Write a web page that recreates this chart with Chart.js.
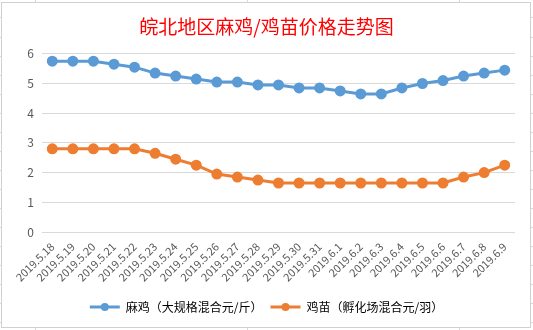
<!DOCTYPE html>
<html>
<head>
<meta charset="utf-8">
<script src="https://cdn.jsdelivr.net/npm/chart.js@4/dist/chart.umd.min.js"></script>
<style>
  html, body { margin: 0; padding: 0; background: #fff; }
  #wrap { width: 533px; height: 330px; }
</style>
</head>
<body>
<div id="wrap"><canvas id="myChart" width="533" height="330"></canvas></div>
<script>
const dates = ['2019.5.18','2019.5.19','2019.5.20','2019.5.21','2019.5.22','2019.5.23','2019.5.24',
  '2019.5.25','2019.5.26','2019.5.27','2019.5.28','2019.5.29','2019.5.30','2019.5.31',
  '2019.6.1','2019.6.2','2019.6.3','2019.6.4','2019.6.5','2019.6.6','2019.6.7','2019.6.8','2019.6.9'];
const chickenPrice = [5.75,5.75,5.75,5.65,5.55,5.35,5.25,5.15,5.05,5.05,4.95,4.95,4.85,4.85,
  4.75,4.65,4.65,4.85,5.0,5.1,5.25,5.35,5.45];
const chickPrice = [2.8,2.8,2.8,2.8,2.8,2.65,2.45,2.25,1.95,1.85,1.75,1.65,1.65,1.65,
  1.65,1.65,1.65,1.65,1.65,1.65,1.85,2.0,2.25];
const seriesNames = ['麻鸡（大规格混合元/斤）','鸡苗（孵化场混合元/羽）'];
const yTicks = [0,1,2,3,4,5,6];

window.onload = preparePage;

function preparePage(){
  const frame = {
    id: 'frame',
    beforeDraw(chart){
      const c = chart.ctx;
      c.save();
      c.fillStyle = '#fff';
      c.fillRect(0,0,chart.width,chart.height);
      // sheet lines around the chart
      c.strokeStyle = '#d9d9d9';
      c.lineWidth = 1;
      [35,247,459].forEach(x=>{ c.beginPath(); c.moveTo(x+0.5,0); c.lineTo(x+0.5,3); c.stroke(); c.beginPath(); c.moveTo(x+0.5,327); c.lineTo(x+0.5,330); c.stroke(); });
      [17,37,56,75,94,113,132,151,170,189,208,227,246,265,284,303,322].forEach(y=>{ c.beginPath(); c.moveTo(0,y+0.5); c.lineTo(2,y+0.5); c.stroke(); c.beginPath(); c.moveTo(531,y+0.5); c.lineTo(533,y+0.5); c.stroke(); });
      c.strokeStyle = '#d0d0d0';
      c.strokeRect(1.5,2.5,529,325);
      c.restore();
    },
    afterDraw(chart){
      const c = chart.ctx;
      const lg = chart.legend;
      if(!lg || !lg.legendHitBoxes) return;
      lg.legendHitBoxes.forEach((b,i)=>{
        const ds = chart.data.datasets[i];
        c.save();
        c.fillStyle = ds.borderColor;
        c.beginPath();
        c.arc(b.left + 15, b.top + b.height/2, 4, 0, Math.PI*2);
        c.fill();
        c.restore();
      });
    }
  };

  const ctx = document.getElementById('myChart').getContext('2d');
  const myChart = new Chart(ctx, {
    type: 'line',
    data: {
      labels: dates,
      datasets: [{
        label: seriesNames[0],
        data: chickenPrice,
        borderColor: '#5b9bd5',
        backgroundColor: '#5b9bd5',
        borderWidth: 3,
        pointRadius: 4,
        pointHoverRadius: 4,
        tension: 0
      },{
        label: seriesNames[1],
        data: chickPrice,
        borderColor: '#ed7d31',
        backgroundColor: '#ed7d31',
        borderWidth: 3,
        pointRadius: 4,
        pointHoverRadius: 4,
        tension: 0
      }]
    },
    options: {
      responsive: false,
      animation: false,
      layout: { padding: { left: 18, right: 18, top: 0, bottom: 7 } },
      plugins: {
        title: {
          display: true,
          text: '皖北地区麻鸡/鸡苗价格走势图',
          color: '#ff0000',
          font: { family: '"Noto Sans CJK SC"', size: 19, weight: 'normal' },
          padding: { top: 15, bottom: 16 }
        },
        legend: {
          position: 'bottom',
          labels: {
            boxWidth: 30,
            boxHeight: 3,
            color: '#595959',
            font: { family: '"Noto Sans CJK SC"', size: 12 },
            padding: 8,
            generateLabels(chart){
              return chart.data.datasets.map((ds,i)=>({
                text: ds.label, fillStyle: ds.borderColor, strokeStyle: ds.borderColor,
                lineWidth: 0, datasetIndex: i, hidden: false
              }));
            }
          }
        },
        tooltip: { enabled: false }
      },
      scales: {
        x: {
          offset: true,
          grid: { display: false },
          border: { display: false },
          afterFit(axis){ axis.height = 61; },
          ticks: {
            minRotation: 45, maxRotation: 45, autoSkip: false,
            color: '#595959',
            font: { family: '"Noto Sans CJK SC"', size: 11 },
            padding: 0
          }
        },
        y: {
          min: 0, max: 6,
          afterBuildTicks(axis){ axis.ticks = yTicks.map(v=>({value:v})); },
          afterFit(axis){ axis.width = 24; },
          grid: { color: '#d9d9d9', drawTicks: false },
          border: { display: false },
          ticks: {
            color: '#595959',
            font: { family: '"Noto Sans CJK SC"', size: 12 },
            padding: 8
          }
        }
      }
    },
    plugins: [frame]
  });
}
</script>
</body>
</html>
